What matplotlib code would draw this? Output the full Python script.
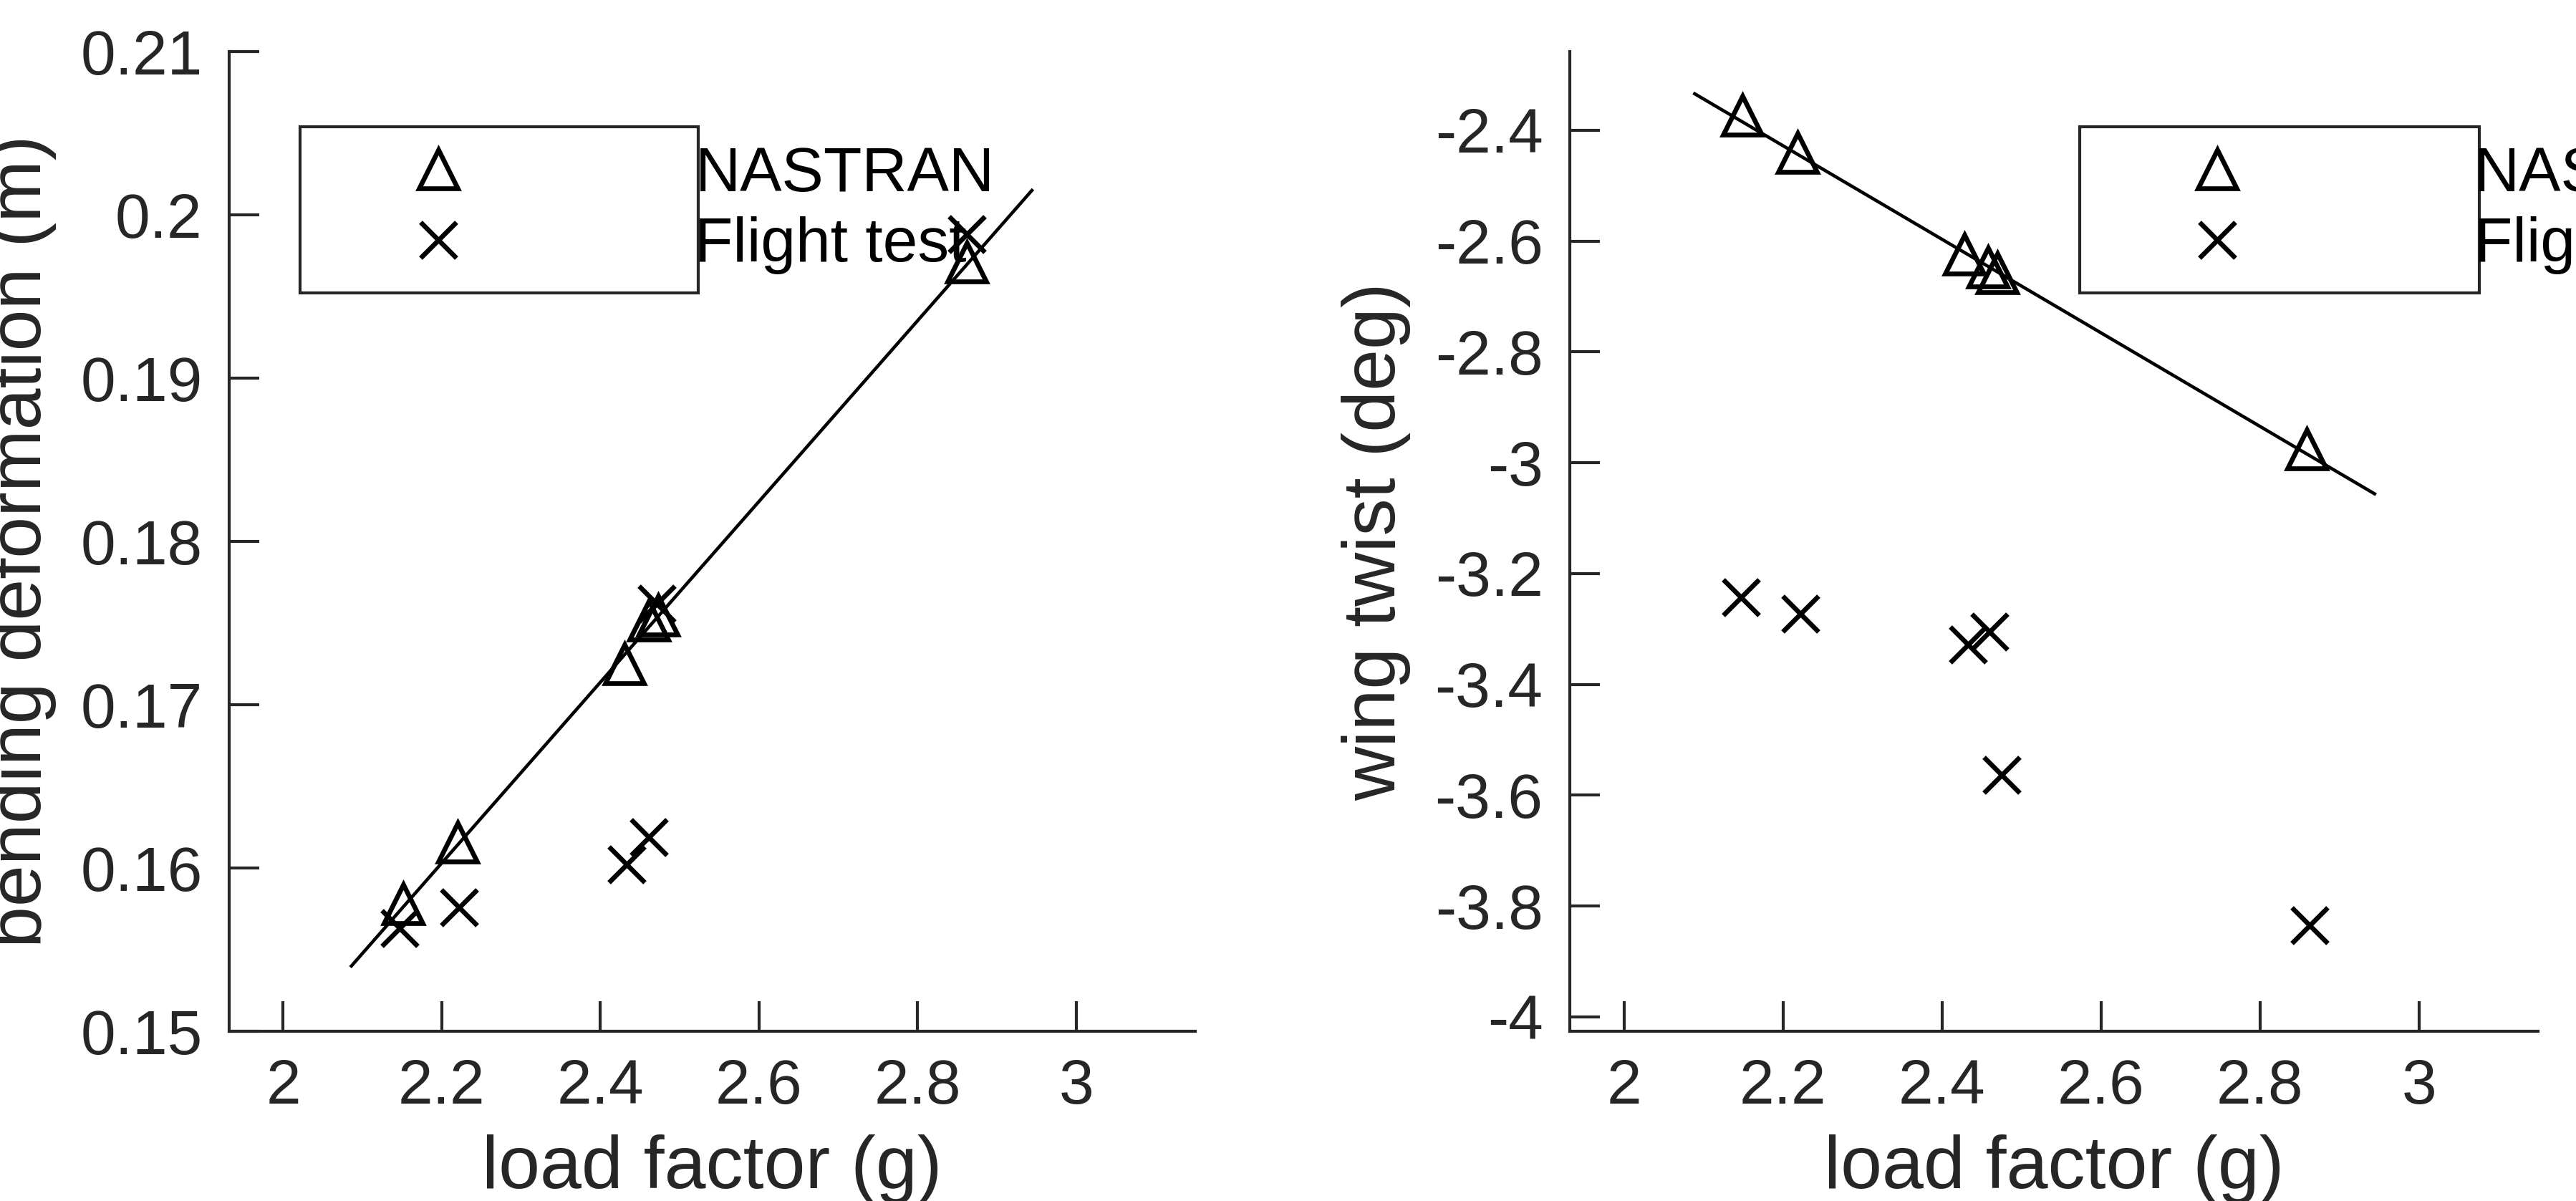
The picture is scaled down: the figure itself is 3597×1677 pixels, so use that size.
import matplotlib
matplotlib.use("Agg")
import matplotlib.pyplot as plt

plt.rcParams.update({"font.family": ["Liberation Sans", "DejaVu Sans"]})

# ── Datos ─────────────────────────────────────────────────────────────
load_nas = [2.151, 2.220, 2.430, 2.461, 2.473, 2.862]
bend_nas = [0.1578, 0.1616, 0.1725, 0.1752, 0.1755, 0.1971]
load_ft_b = [2.147, 2.222, 2.433, 2.461, 2.471, 2.862]
bend_ft = [0.1563, 0.1576, 0.1602, 0.1619, 0.1762, 0.1988]
bend_fit_x = [2.086, 2.944]
bend_fit_y = [0.1540, 0.2015]

load_nas_t = [2.149, 2.218, 2.428, 2.458, 2.470, 2.859]
twist_nas = [-2.373, -2.440, -2.623, -2.647, -2.657, -2.975]
load_ft_t = [2.147, 2.222, 2.433, 2.460, 2.475, 2.862]
twist_ft = [-3.243, -3.272, -3.328, -3.305, -3.563, -3.835]
twist_fit_x = [2.089, 2.944]
twist_fit_y = [-2.334, -3.056]

xticks = [2, 2.2, 2.4, 2.6, 2.8, 3]
bend_ticks = [0.15, 0.16, 0.17, 0.18, 0.19, 0.2, 0.21]
twist_ticks = [-4, -3.8, -3.6, -3.4, -3.2, -3, -2.8, -2.6, -2.4]

TXT = "#262626"

fig = plt.figure(figsize=(3597 / 300, 1677 / 300), dpi=300)
ax1 = fig.add_axes([0.089, 0.1413, 0.375, 0.8157])
ax2 = fig.add_axes([0.6094, 0.1413, 0.376, 0.8157])

paneles = [
    (ax1, load_nas, bend_nas, load_ft_b, bend_ft, bend_fit_x, bend_fit_y,
     "bending deformation (m)", (0.15, 0.21), bend_ticks,
     ["0.15", "0.16", "0.17", "0.18", "0.19", "0.2", "0.21"], 0.041),
    (ax2, load_nas_t, twist_nas, load_ft_t, twist_ft, twist_fit_x, twist_fit_y,
     "wing twist (deg)", (-4.026, -2.258), twist_ticks,
     ["-4", "-3.8", "-3.6", "-3.4", "-3.2", "-3", "-2.8", "-2.6", "-2.4"], 0.494),
]

for ax, xn, yn, xf, yf, lx, ly, ylabel, ylim, yt, ytl, lx0 in paneles:
    ax.plot(lx, ly, "-", color="black", lw=1.1)
    ax.plot(xn, yn, "^", ms=13, mfc="none", mec="black", mew=1.6,
            ls="none", label="NASTRAN")
    ax.plot(xf, yf, "x", ms=12, mec="black", mew=1.6, ls="none",
            label="Flight test")
    ax.set_xlim(1.932, 3.15)
    ax.set_ylim(*ylim)
    ax.set_xticks(xticks)
    ax.set_xticklabels(["2", "2.2", "2.4", "2.6", "2.8", "3"])
    ax.set_yticks(yt)
    ax.set_yticklabels(ytl)
    for s in ("top", "right"):
        ax.spines[s].set_visible(False)
    for s in ("left", "bottom"):
        ax.spines[s].set_color(TXT)
        ax.spines[s].set_linewidth(1.0)
    ax.tick_params(direction="in", length=10, width=1.0, colors=TXT,
                   labelsize=21, pad=9)
    ax.set_xlabel("load factor (g)", fontsize=25, color=TXT, labelpad=6)
    ax.set_ylabel(ylabel, fontsize=25, color=TXT, labelpad=8)
    leg = ax.legend(loc="upper left", bbox_to_anchor=(lx0, 0.816, 0.477, 0.139),
                    mode="expand", fontsize=21, fancybox=False, edgecolor=TXT,
                    framealpha=1, handletextpad=2.2, borderpad=0.3,
                    handlelength=3.8, labelspacing=0.2)
    leg.get_frame().set_linewidth(1.0)

fig.savefig("out.png", dpi=300)
